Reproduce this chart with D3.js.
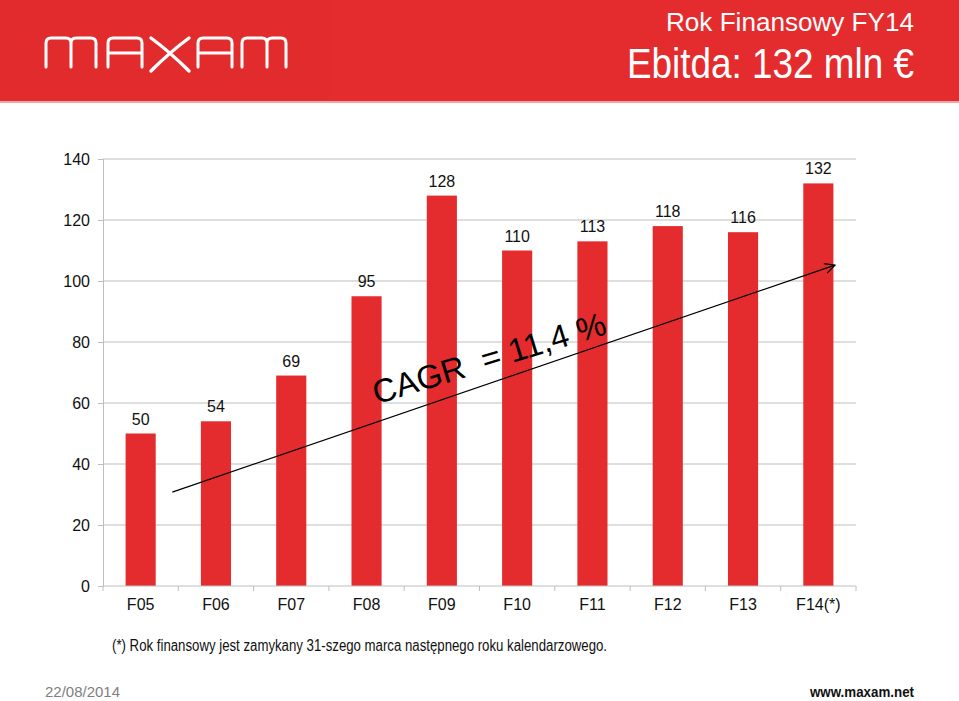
<!DOCTYPE html>
<html>
<head>
<meta charset="utf-8">
<script src="https://cdn.jsdelivr.net/npm/d3@7"></script>
<style>
  html, body { margin: 0; padding: 0; background: #fff; }
  svg { display: block; font-family: "Liberation Sans", Arial, sans-serif; }
</style>
</head>
<body>
<svg id="chart"></svg>
<script>
const categories = ['F05', 'F06', 'F07', 'F08', 'F09', 'F10', 'F11', 'F12', 'F13', 'F14(*)']
const ebitda = [50, 54, 69, 95, 128, 110, 113, 118, 116, 132]
const yTicks = [0, 20, 40, 60, 80, 100, 120, 140]
// trend arrow, in category units (0..10) and value units
const arrowIdx = [0.92, 9.72]
const arrowVal = [30.8, 105.2]
const cagrLabel = 'CAGR  = 11,4 %'

const W = 959, H = 701
const red = '#e42c2e'

const svg = d3.select('#chart').attr('width', W).attr('height', H)

// header band
svg.append('rect').attr('x', 0).attr('y', 0).attr('width', W).attr('height', 101).attr('fill', red)
svg.append('rect').attr('x', 0).attr('y', 0).attr('width', 330).attr('height', 101).attr('fill', '#e22b2d')
svg.append('rect').attr('x', 0).attr('y', 101).attr('width', W).attr('height', 2).attr('fill', '#f2a5a5')

// logo
const logo = svg.append('g').attr('fill', 'none').attr('stroke', '#fff')
  .attr('stroke-width', 3).attr('stroke-linecap', 'round')
logo.append('path').attr('d', 'M46,67 V43 Q46,38 51,38 H66 Q71,38 71,43 V67 M71,43 Q71,38 76,38 H91 Q96,38 96,43 V67')
logo.append('path').attr('d', 'M108,67 V43 Q108,38 113,38 H137 Q142,38 142,43 V67 M108,53 H142')
logo.append('path').attr('d', 'M151,38 Q170,52 189,71 M189,38 Q170,52 151,71').attr('stroke-width', 3.4)
logo.append('path').attr('d', 'M198,67 V43 Q198,38 203,38 H227 Q232,38 232,43 V67 M198,53 H232')
logo.append('path').attr('d', 'M242,67 V43 Q242,38 247,38 H262 Q267,38 267,43 V67 M267,43 Q267,38 272,38 H281 Q286,38 286,43 V67')

svg.append('text').attr('x', 914).attr('y', 31).attr('text-anchor', 'end')
  .attr('fill', '#fff').attr('font-size', 26)
  .attr('font-family', '"Liberation Sans Narrow", "Liberation Sans", Arial, sans-serif')
  .attr('textLength', 248).attr('lengthAdjust', 'spacingAndGlyphs')
  .text('Rok Finansowy FY14')
svg.append('text').attr('x', 914).attr('y', 78).attr('text-anchor', 'end')
  .attr('fill', '#fff').attr('font-size', 42)
  .attr('font-family', '"Liberation Sans Narrow", "Liberation Sans", Arial, sans-serif')
  .attr('textLength', 287).attr('lengthAdjust', 'spacingAndGlyphs')
  .text('Ebitda: 132 mln €')

// chart
const plotL = 103, plotR = 856, plotT = 159, plotB = 586

const x = d3.scaleBand().domain(categories).range([plotL, plotR])
  .paddingInner(0.6).paddingOuter(0.3)
const xi = d3.scaleLinear().domain([0, categories.length]).range([plotL, plotR])
const y = d3.scaleLinear().domain([0, 140]).range([plotB, plotT])

// gridlines
svg.append('g').selectAll('line').data(yTicks.filter(d => d > 0)).join('line')
  .attr('x1', plotL).attr('x2', plotR)
  .attr('y1', d => y(d)).attr('y2', d => y(d))
  .attr('stroke', '#bebebe').attr('stroke-width', 1)

// y axis
const yAxis = svg.append('g').attr('transform', `translate(${plotL},0)`)
  .call(d3.axisLeft(y).tickValues(yTicks).tickSize(5).tickPadding(8))
yAxis.select('.domain').attr('stroke', '#bebebe')
yAxis.selectAll('.tick line').attr('stroke', '#bebebe')
yAxis.selectAll('.tick text').attr('font-size', 16).attr('fill', '#111')
  .attr('font-family', '"Liberation Sans", Arial, sans-serif')

// bars
svg.append('g').selectAll('rect').data(ebitda).join('rect')
  .attr('x', (d, i) => x(categories[i]))
  .attr('width', x.bandwidth())
  .attr('y', d => y(d))
  .attr('height', d => y(0) - y(d))
  .attr('fill', red)

// value labels
svg.append('g').selectAll('text').data(ebitda).join('text')
  .attr('x', (d, i) => x(categories[i]) + x.bandwidth() / 2)
  .attr('y', d => y(d) - 9)
  .attr('text-anchor', 'middle')
  .attr('font-size', 16).attr('fill', '#111')
  .text(d => d)

// x axis
const xAxisG = svg.append('g').attr('transform', `translate(0,${plotB})`)
xAxisG.append('line').attr('x1', plotL).attr('x2', plotR).attr('stroke', '#bebebe')
xAxisG.selectAll('line.tk').data(d3.range(categories.length + 1)).join('line')
  .attr('class', 'tk')
  .attr('x1', d => xi(d)).attr('x2', d => xi(d))
  .attr('y1', 0).attr('y2', 5).attr('stroke', '#bebebe')
xAxisG.selectAll('text').data(categories).join('text')
  .attr('x', d => x(d) + x.bandwidth() / 2)
  .attr('y', 24)
  .attr('text-anchor', 'middle')
  .attr('font-size', 16).attr('fill', '#111')
  .text(d => d)

// trend arrow
svg.append('defs').append('marker')
  .attr('id', 'arr').attr('viewBox', '0 0 12 12')
  .attr('refX', 11).attr('refY', 6)
  .attr('markerWidth', 12).attr('markerHeight', 12)
  .attr('markerUnits', 'userSpaceOnUse').attr('orient', 'auto')
  .append('path').attr('d', 'M1,1 L11,6 L1,11')
  .attr('fill', 'none').attr('stroke', '#000').attr('stroke-width', 1.3)

svg.append('line')
  .attr('x1', xi(arrowIdx[0])).attr('y1', y(arrowVal[0]))
  .attr('x2', xi(arrowIdx[1])).attr('y2', y(arrowVal[1]))
  .attr('stroke', '#000').attr('stroke-width', 1.3)
  .attr('marker-end', 'url(#arr)')

const cx = xi(5.17), cy = y(71.1)
svg.append('text')
  .attr('transform', `translate(${cx},${cy}) rotate(-17)`)
  .attr('text-anchor', 'middle')
  .attr('font-size', 33).attr('fill', '#000')
  .attr('xml:space', 'preserve')
  .style('white-space', 'pre')
  .text(cagrLabel)

// footnote & footer
svg.append('text').attr('x', 112).attr('y', 651)
  .attr('font-size', 16).attr('fill', '#111')
  .attr('textLength', 495).attr('lengthAdjust', 'spacingAndGlyphs')
  .text('(*) Rok finansowy jest zamykany 31-szego marca następnego roku kalendarzowego.')
svg.append('text').attr('x', 45).attr('y', 697)
  .attr('font-size', 15).attr('fill', '#808080')
  .attr('font-family', '"Liberation Sans Narrow", "Liberation Sans", Arial, sans-serif')
  .attr('textLength', 75).attr('lengthAdjust', 'spacingAndGlyphs')
  .text('22/08/2014')
svg.append('text').attr('x', 914).attr('y', 697).attr('text-anchor', 'end')
  .attr('font-size', 15).attr('font-weight', 'bold').attr('fill', '#111')
  .attr('font-family', '"Liberation Sans Narrow", "Liberation Sans", Arial, sans-serif')
  .attr('textLength', 104).attr('lengthAdjust', 'spacingAndGlyphs')
  .text('www.maxam.net')
</script>
</body>
</html>
